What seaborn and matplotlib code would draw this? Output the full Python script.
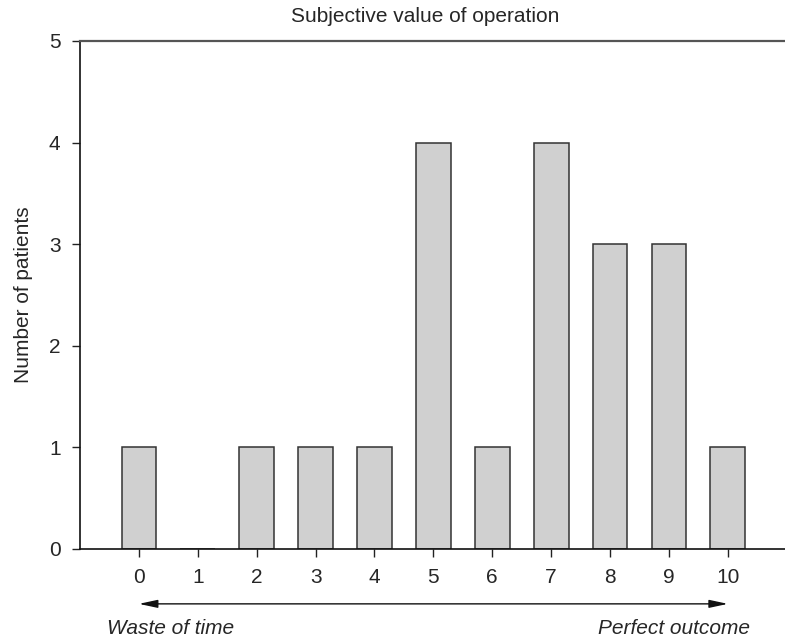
import matplotlib
matplotlib.use("Agg")
import matplotlib.pyplot as plt
import seaborn as sns
import pandas as pd

scores = ["0", "1", "2", "3", "4", "5", "6", "7", "8", "9", "10"]
patients = [1, 0, 1, 1, 1, 4, 1, 4, 3, 3, 1]
y_ticks = [0, 1, 2, 3, 4, 5]
title = "Subjective value of operation"
ylabel = "Number of patients"
left_label = "Waste of time"
right_label = "Perfect outcome"

sns.set_style("white")
plt.rcParams["font.family"] = ["Liberation Sans", "DejaVu Sans"]

FS = 15
W, H = 785, 640
fig = plt.figure(figsize=(W / 100, H / 100), dpi=100)
ax = fig.add_axes([80 / W, 91 / H, (W - 80) / W, 508 / H])

df = pd.DataFrame({"score": scores, "n": patients})
sns.barplot(data=df, x="score", y="n", order=scores, color="#d0d0d0",
            saturation=1, width=0.59, edgecolor="#333333", linewidth=1.1, ax=ax)

ax.set_xlim(-1.0, 10.97)
ax.set_ylim(0, 5)
ax.set_yticks(y_ticks)
ax.set_xlabel("")
ax.set_ylabel(ylabel, fontsize=FS, va="center")
ax.yaxis.set_label_coords(-0.080, 0.5)
ax.set_title(title, fontsize=FS, x=0.489, y=1.049, va="center", pad=0)
ax.tick_params(axis="both", direction="out", length=6, width=1, color="#222222",
               labelsize=FS, left=True, bottom=True, pad=8)

for s in ["left", "bottom"]:
    ax.spines[s].set_color("#111111")
    ax.spines[s].set_linewidth(1.2)
ax.spines["top"].set_color("#555555")
ax.spines["top"].set_linewidth(1.6)
ax.spines["right"].set_visible(False)

ax.annotate("", xy=(0, -0.108), xycoords=("data", "axes fraction"),
            xytext=(10, -0.108), textcoords=("data", "axes fraction"),
            arrowprops=dict(arrowstyle="<|-|>,head_length=0.7,head_width=0.15",
                            color="#111111", lw=1,
                            shrinkA=0, shrinkB=0, mutation_scale=16),
            annotation_clip=False)

fig.text(107 / W, 1 - 628 / H, left_label, fontsize=FS, style="italic",
         ha="left", va="center")
fig.text(750 / W, 1 - 628 / H, right_label, fontsize=FS, style="italic",
         ha="right", va="center")

fig.savefig("out.png", dpi=100)
